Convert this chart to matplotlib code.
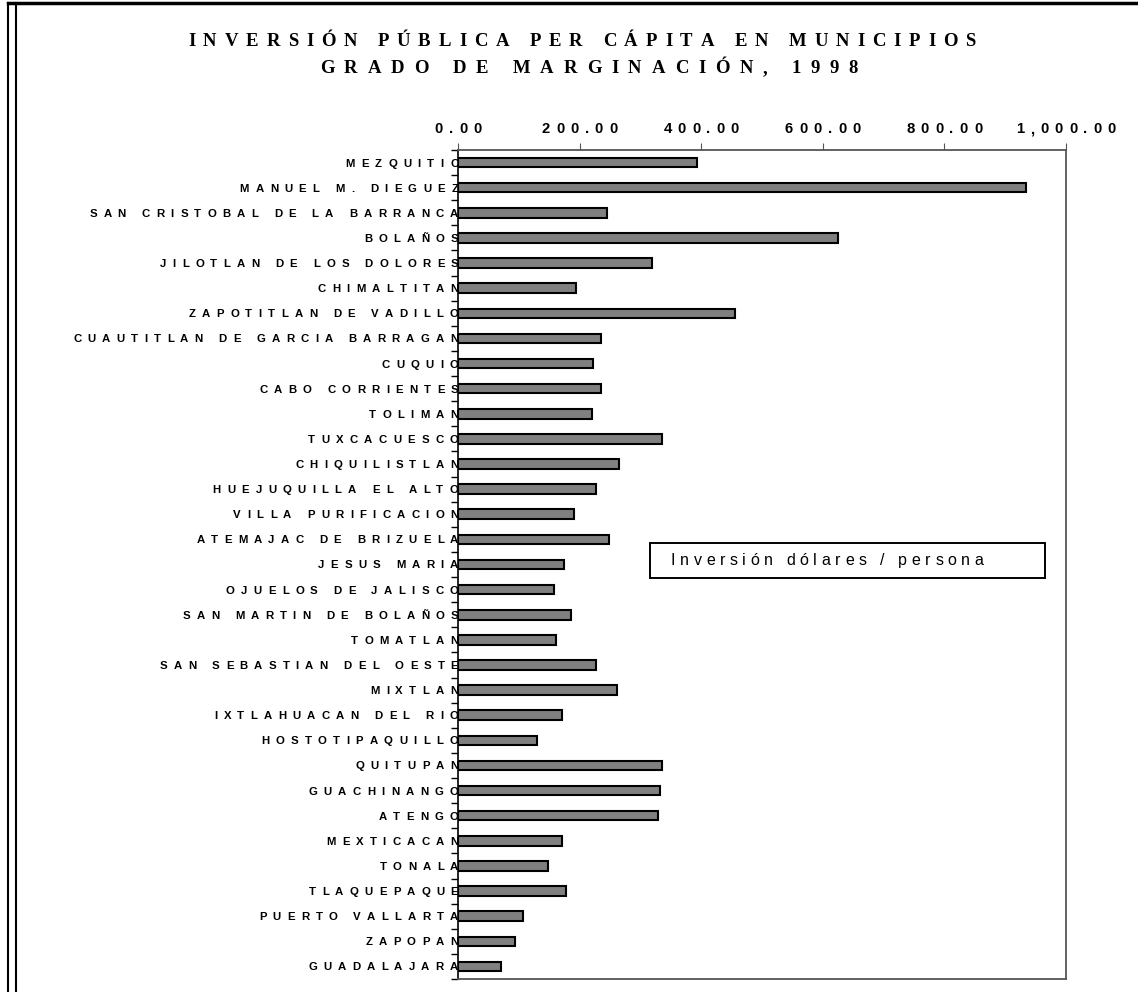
import matplotlib.pyplot as plt
from matplotlib import font_manager
from matplotlib.ft2font import FT2Font
from matplotlib.lines import Line2D
from matplotlib.patches import Rectangle
from matplotlib.transforms import offset_copy

# Data
municipios = [
    "MEZQUITIC", "MANUEL M. DIEGUEZ", "SAN CRISTOBAL DE LA BARRANCA", "BOLAÑOS",
    "JILOTLAN DE LOS DOLORES", "CHIMALTITAN", "ZAPOTITLAN DE VADILLO",
    "CUAUTITLAN DE GARCIA BARRAGAN", "CUQUIO", "CABO CORRIENTES", "TOLIMAN",
    "TUXCACUESCO", "CHIQUILISTLAN", "HUEJUQUILLA EL ALTO", "VILLA PURIFICACION",
    "ATEMAJAC DE BRIZUELA", "JESUS MARIA", "OJUELOS DE JALISCO",
    "SAN MARTIN DE BOLAÑOS", "TOMATLAN", "SAN SEBASTIAN DEL OESTE", "MIXTLAN",
    "IXTLAHUACAN DEL RIO", "HOSTOTIPAQUILLO", "QUITUPAN", "GUACHINANGO",
    "ATENGO", "MEXTICACAN", "TONALA", "TLAQUEPAQUE", "PUERTO VALLARTA",
    "ZAPOPAN", "GUADALAJARA",
]
inversion = [
    393, 934, 245, 625, 319, 194, 456, 235, 222, 235, 220, 336, 265, 227, 191,
    248, 174, 158, 186, 161, 227, 262, 171, 130, 336, 332, 329, 171, 148, 178,
    107, 94, 71,
]
x_ticks = [0, 200, 400, 600, 800, 1000]
titulo = ["INVERSIÓN PÚBLICA PER CÁPITA EN MUNICIPIOS", "GRADO DE MARGINACIÓN, 1998"]
leyenda = "Inversión dólares / persona"

DPI = 100
W, H = 1138, 992


def advances(text, family, weight, size):
    # glyph advances in pixels, so we can fake letter spacing like the original
    path = font_manager.findfont(font_manager.FontProperties(family=family, weight=weight))
    font = FT2Font(path, hinting_factor=1)
    font.set_size(size, DPI)
    return [font.load_char(ord(c)).linearHoriAdvance / 65536 for c in text]


def spaced_text(x, y, text, trans, align="left", spacing=5.0, size=8,
                weight="normal", family="Liberation Sans", dy=0):
    adv = advances(text, family, weight, size)
    total = sum(adv) + spacing * (len(text) - 1)
    pos = {"left": 0.0, "center": -total / 2, "right": -total}[align]
    for c, a in zip(text, adv):
        if c != " ":
            fig.text(x, y, c, transform=offset_copy(trans, fig, x=pos, y=dy, units="dots"),
                     ha="left", va="baseline", fontsize=size, fontweight=weight,
                     family=family)
        pos += a + spacing


fig = plt.figure(figsize=(W / DPI, H / DPI), dpi=DPI)
ax = fig.add_axes([458 / W, 1 - 979 / H, (1066 - 458) / W, (979 - 150) / H])

ys = list(range(len(municipios)))
ax.barh(ys, inversion, height=0.38, color="#808080", edgecolor="black", linewidth=1.5)
ax.set_xlim(0, 1000)
ax.set_ylim(len(municipios) - 0.5, -0.5)

# x axis on top, labels drawn by hand (spaced)
ax.xaxis.tick_top()
ax.set_xticks(x_ticks)
ax.set_xticklabels([])
ax.tick_params(axis="x", length=5, width=0.8, color="#555555")
for v in x_ticks:
    spaced_text(v, 1, f"{v:,.2f}", ax.get_xaxis_transform(), align="center",
                spacing=6.0, size=10.7, weight="bold", dy=17)

# y ticks at category boundaries, labels at bar centres
ax.set_yticks([y - 0.5 for y in ys] + [len(ys) - 0.5])
ax.set_yticklabels([])
ax.tick_params(axis="y", length=5, width=1.0, direction="out")
for y, name in zip(ys, municipios):
    spaced_text(0, y, name, ax.transData, align="right", spacing=6.5, size=8.2,
                weight="bold", dy=-4)

for side in ["top", "right", "bottom"]:
    ax.spines[side].set_color("#555555")
    ax.spines[side].set_linewidth(1.3)
ax.spines["left"].set_color("black")
ax.spines["left"].set_linewidth(1.2)

# legend box
x0, x1 = (650 - 458) / 608, (1045 - 458) / 608
y0, y1 = (979 - 578) / 829, (979 - 543) / 829
ax.add_patch(Rectangle((x0, y0), x1 - x0, y1 - y0, transform=ax.transAxes,
                       facecolor="white", edgecolor="black", linewidth=1.4))
spaced_text((671 - 458) / 608, (979 - 565) / 829, leyenda, ax.transAxes,
            spacing=4.6, size=11.5)

# title
spaced_text(582 / W, 1 - 46 / H, titulo[0], fig.transFigure, align="center",
            spacing=7.7, size=13.5, weight="bold", family="Liberation Serif")
spaced_text(589 / W, 1 - 73 / H, titulo[1], fig.transFigure, align="center",
            spacing=9.6, size=13.5, weight="bold", family="Liberation Serif")

# page border
fig.add_artist(Line2D([8 / W, 8 / W], [0, 1 - 3 / H], color="black", linewidth=1.5))
fig.add_artist(Line2D([16 / W, 16 / W], [0, 1 - 3 / H], color="black", linewidth=1.5))
fig.add_artist(Line2D([8 / W, 1], [1 - 3 / H, 1 - 3 / H], color="black", linewidth=2.5))

fig.savefig("out.png", dpi=DPI)
